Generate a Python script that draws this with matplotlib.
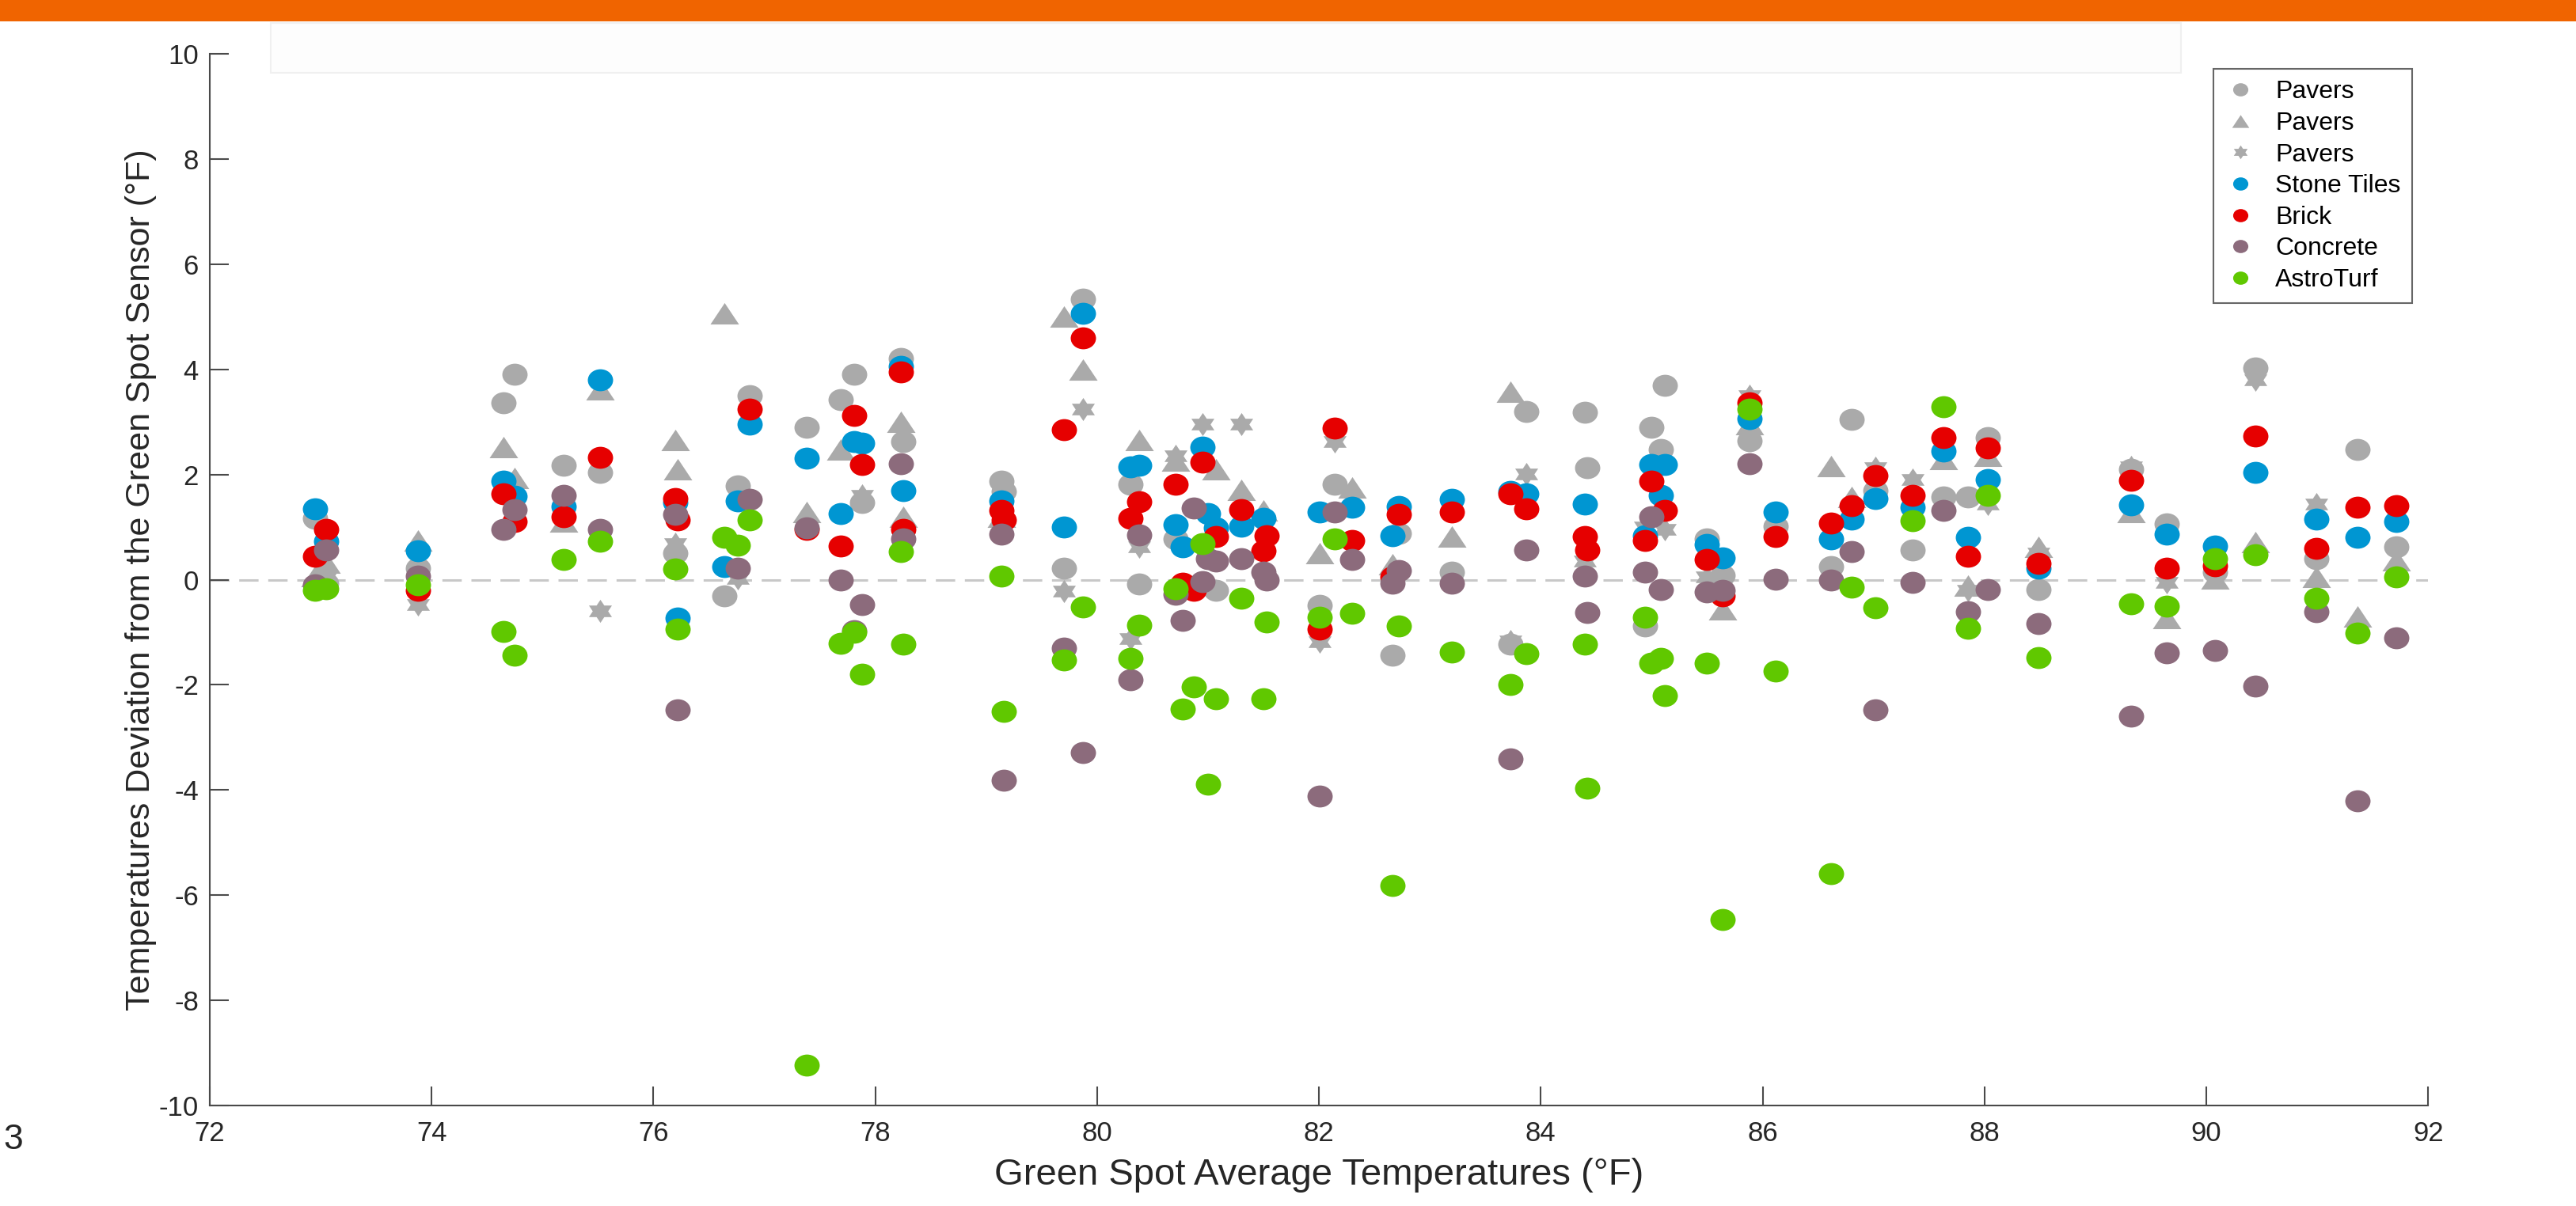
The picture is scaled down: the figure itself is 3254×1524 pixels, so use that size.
"""
Desviación de temperatura de cada material respecto al sensor Green Spot
frente a la temperatura media del Green Spot (°F).
"""

import numpy as np
import matplotlib
matplotlib.use("Agg")
from matplotlib import pyplot as plt
from matplotlib.path import Path
from matplotlib.patches import Rectangle

plt.rcParams['font.family'] = ['Liberation Sans', 'DejaVu Sans']
plt.rcParams['axes.unicode_minus'] = False

nan = np.nan

# ═══════════════════════════════════════════════════════════════
#  DATOS
# ═══════════════════════════════════════════════════════════════

temp_green_spot = [72.95, 73.05, 73.88, 74.65, 74.75, 75.19, 75.52, 76.20, 76.22, 76.64,
                   76.76, 76.87, 77.38, 77.69, 77.81, 77.88, 78.23, 78.25, 79.14, 79.16,
                   79.70, 79.87, 80.30, 80.38, 80.71, 80.77, 80.87, 80.95, 81.00, 81.07,
                   81.30, 81.50, 81.53, 82.01, 82.14, 82.30, 82.66, 82.72, 83.20, 83.73,
                   83.87, 84.40, 84.42, 84.94, 85.00, 85.08, 85.12, 85.50, 85.64, 85.88,
                   86.12, 86.62, 86.80, 87.02, 87.35, 87.63, 87.85, 88.03, 88.49, 89.32,
                   89.64, 90.08, 90.44, 90.99, 91.36, 91.71]

pavers_circulo = [1.17, -0.07, 0.22, 3.37, 3.90, 2.17, 2.04, 0.51, nan, -0.31,
                  1.79, 3.50, 2.90, 3.43, 3.90, 1.46, 4.20, 2.63, 1.88, 1.68,
                  0.22, 5.33, 1.81, -0.08, 0.77, nan, nan, nan, nan, -0.21,
                  nan, nan, nan, -0.49, 1.82, nan, -1.44, 0.88, 0.14, -1.23,
                  3.20, 3.19, 2.13, -0.88, 2.90, 2.48, 3.69, 0.78, 0.09, 2.64,
                  1.02, 0.25, 3.05, 1.69, 0.57, 1.58, 1.58, 2.70, -0.19, 2.10,
                  1.06, 0.15, 4.03, 0.40, 2.48, 0.63]

pavers_triangulo = [0.07, 0.33, 0.74, 2.52, 1.93, 1.10, 3.62, 2.66, 2.10, 5.07,
                    nan, nan, 1.28, 2.48, nan, nan, 3.00, 1.20, 1.20, nan,
                    5.00, 4.00, nan, 2.66, 2.27, nan, nan, nan, nan, 2.10,
                    1.71, 1.31, nan, 0.51, nan, 1.75, 0.29, nan, 0.82, 3.57,
                    nan, nan, nan, nan, nan, nan, nan, nan, -0.57, 2.95,
                    nan, 2.16, 1.58, nan, nan, 2.30, -0.11, 2.36, 0.63, 1.29,
                    -0.73, 0.02, 0.71, 0.05, -0.70, 0.37]

pavers_estrella = [nan, 0.05, -0.48, nan, 1.20, nan, -0.59, 0.69, nan, nan,
                   0.03, nan, nan, nan, nan, 1.60, nan, nan, nan, nan,
                   -0.22, 3.25, -1.12, 0.62, 2.35, nan, nan, 2.96, nan, nan,
                   2.96, nan, nan, -1.18, 2.63, nan, nan, nan, nan, -1.17,
                   2.01, 0.36, nan, 1.00, nan, nan, 0.96, 0.05, nan, 3.50,
                   nan, nan, nan, 2.13, 1.90, nan, -0.20, 1.43, 0.51, 2.15,
                   -0.06, nan, 3.80, 1.43, nan, nan]

stone_tiles = [1.35, 0.73, 0.55, 1.88, 1.59, 1.39, 3.80, 1.46, -0.73, 0.25,
               1.50, 2.96, 2.31, 1.26, 2.63, 2.59, 4.05, 1.70, 1.50, nan,
               1.00, 5.07, 2.15, 2.17, 1.05, 0.63, nan, 2.52, 1.25, 0.98,
               1.02, 1.17, nan, 1.28, nan, 1.37, 0.84, 1.39, 1.53, 1.68,
               1.64, 1.44, nan, 0.84, 2.19, 1.60, 2.19, 0.67, 0.41, 3.06,
               1.28, 0.77, 1.15, 1.54, 1.38, 2.44, 0.81, 1.90, 0.22, 1.42,
               0.87, 0.64, 2.04, 1.15, 0.81, 1.10]

brick = [0.45, 0.95, -0.21, 1.63, 1.11, 1.20, 2.32, 1.55, 1.13, nan,
         nan, 3.24, 0.95, 0.64, 3.12, 2.19, 3.95, 0.96, 1.31, 1.13,
         2.85, 4.60, 1.17, 1.48, 1.81, -0.07, -0.21, 2.24, nan, 0.82,
         1.33, 0.55, 0.84, -0.94, 2.88, 0.74, 0.05, 1.24, 1.29, 1.64,
         1.35, 0.82, 0.57, 0.74, 1.87, nan, 1.31, 0.38, -0.31, 3.36,
         0.82, 1.07, 1.41, 1.98, 1.61, 2.70, 0.45, 2.50, 0.31, 1.89,
         0.22, 0.27, 2.73, 0.60, 1.38, 1.41]

concrete = [-0.10, 0.57, 0.07, 0.95, 1.33, 1.60, 0.96, 1.24, -2.48, nan,
            0.22, 1.53, 0.99, 0.00, -0.97, -0.47, 2.21, 0.78, 0.86, -3.82,
            -1.30, -3.29, -1.90, 0.85, -0.28, -0.78, 1.36, -0.04, 0.40, 0.36,
            0.40, 0.15, 0.00, -4.12, 1.28, 0.38, -0.07, 0.17, -0.07, -3.41,
            0.56, 0.07, -0.62, 0.15, 1.20, -0.19, nan, -0.24, -0.21, 2.20,
            0.01, 0.00, 0.54, -2.48, -0.06, 1.32, -0.61, -0.19, -0.84, -2.60,
            -1.39, -1.34, -2.03, -0.61, -4.20, -1.10]

astroturf = [-0.21, -0.17, -0.10, -0.99, -1.44, 0.38, 0.73, 0.20, -0.94, 0.80,
             0.66, 1.13, -9.23, -1.21, -1.00, -1.80, 0.53, -1.23, 0.07, -2.51,
             -1.52, -0.52, -1.49, -0.86, -0.18, -2.46, -2.04, 0.69, -3.89, -2.27,
             -0.35, -2.27, -0.80, -0.71, 0.77, -0.64, -5.82, -0.88, -1.37, -1.99,
             -1.40, -1.23, -3.96, -0.71, -1.58, -1.49, -2.20, -1.59, -6.47, 3.25,
             -1.74, -5.59, -0.14, -0.53, 1.12, 3.29, -0.93, 1.61, -1.48, -0.46,
             -0.50, 0.40, 0.48, -0.35, -1.02, 0.05]

etiquetas = ["Pavers", "Pavers", "Pavers", "Stone Tiles", "Brick", "Concrete", "AstroTurf"]


# ═══════════════════════════════════════════════════════════════
#  MARCADORES (algo ensanchados, como en la figura original)
# ═══════════════════════════════════════════════════════════════

c = Path.unit_circle()
m_circulo = Path(c.vertices * [1.15, 1.0], c.codes)
m_triangulo = Path([(-1, -0.75), (1, -0.75), (0, 0.75), (-1, -0.75)], closed=True)
ang = np.deg2rad(np.arange(12) * 30 + 90)
rad = np.where(np.arange(12) % 2 == 0, 1.0, 0.58)
v = np.column_stack([1.15 * rad * np.cos(ang), rad * np.sin(ang)])
m_estrella = Path(np.vstack([v, v[:1]]), closed=True)

GRIS = "#aaaaaa"
series = [
    (pavers_circulo, m_circulo, 23, GRIS),
    (pavers_triangulo, m_triangulo, 26, GRIS),
    (pavers_estrella, m_estrella, 21, GRIS),
    (stone_tiles, m_circulo, 23, "#0096d2"),
    (brick, m_circulo, 23, "#e60000"),
    (concrete, m_circulo, 23, "#8c6b7c"),
    (astroturf, m_circulo, 23, "#60c800"),
]


# ═══════════════════════════════════════════════════════════════
#  FIGURA
# ═══════════════════════════════════════════════════════════════

fig = plt.figure(figsize=(32.54, 15.24), dpi=100)
ax = fig.add_axes([0.0814, 0.0833, 0.8612, 0.8721])
ax.set_facecolor("none")

# franja naranja superior y recuadro tenue
fig.patches.append(Rectangle((0, 0.9823), 1, 0.0177, transform=fig.transFigure,
                             facecolor="#f06400", edgecolor="none", zorder=-2))
fig.patches.append(Rectangle((0.105, 0.9396), 0.7415, 0.0413, transform=fig.transFigure,
                             facecolor="#fdfdfd", edgecolor="#f0f0f0", lw=1.5, zorder=-1))

ax.axhline(0, color="#c8c8c8", lw=2.2, dashes=(8, 4), zorder=1)

handles = []
for (vals, mk, ms, col), lab in zip(series, etiquetas):
    h, = ax.plot(temp_green_spot, vals, ls="none", marker=mk, markersize=ms,
                 markerfacecolor=col, markeredgecolor="none", label=lab, zorder=2)
    handles.append(h)

ax.set_xlim(72, 92)
ax.set_ylim(-10, 10)
ax.set_xticks(np.arange(72, 93, 2))
ax.set_yticks(np.arange(-10, 11, 2))

for s in ["top", "right"]:
    ax.spines[s].set_visible(False)
for s in ["left", "bottom"]:
    ax.spines[s].set_color("#4a4a4a")
    ax.spines[s].set_linewidth(1.5)

ax.tick_params(direction="in", length=17, width=1.5, color="#4a4a4a",
               labelsize=25, labelcolor="#262626")
ax.tick_params(axis="x", pad=14)
ax.tick_params(axis="y", pad=10)

ax.set_xlabel("Green Spot Average Temperatures (°F)", fontsize=34, color="#262626", labelpad=10)
ax.set_ylabel("Temperatures Deviation from the Green Spot Sensor (°F)", fontsize=31,
              color="#262626", labelpad=2)

leg = fig.legend(handles=handles, loc="upper right", bbox_to_anchor=(0.9364, 0.9429),
                 bbox_transform=fig.transFigure, fontsize=23, markerscale=0.6,
                 frameon=True, fancybox=False, borderaxespad=0, labelspacing=0.3,
                 handlelength=1.2, handletextpad=0.8, borderpad=0.45)
leg.get_frame().set_edgecolor("#404040")
leg.get_frame().set_linewidth(1.5)

fig.text(0.0089, 0.055, "3", fontsize=32, color="#262626", ha="right", va="center")

fig.savefig("out.png", dpi=100)
plt.close(fig)
